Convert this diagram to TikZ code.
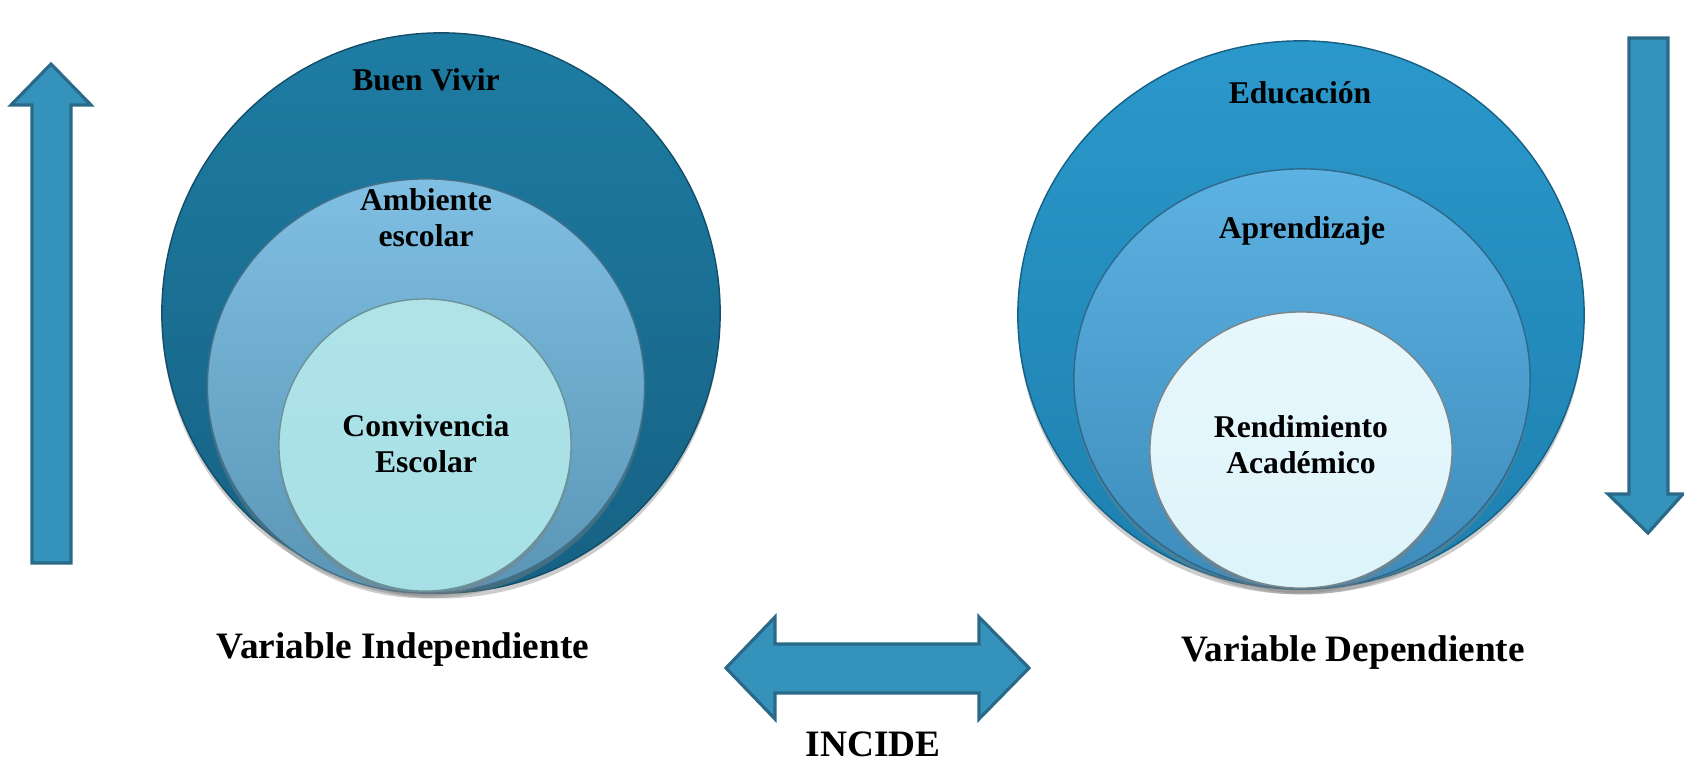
\documentclass[tikz,border=0pt]{standalone}
\usepackage{fontspec}
\setmainfont{Liberation Serif}
\usepackage{xcolor}
\usetikzlibrary{
    shadows,
    positioning
}

\definecolor{buenTop}{HTML}{1E7CA3}
\definecolor{buenBot}{HTML}{166183}
\definecolor{ambTop}{HTML}{7FBFE3}
\definecolor{ambBot}{HTML}{5A95B5}
\definecolor{convFill}{HTML}{A6E0E6}
\definecolor{eduTop}{HTML}{2B98CB}
\definecolor{eduBot}{HTML}{1D80AF}
\definecolor{aprTop}{HTML}{5CB2E2}
\definecolor{aprBot}{HTML}{3D8BBA}
\definecolor{rendFill}{HTML}{DDF4FB}
\definecolor{arrowFill}{HTML}{3592BA}
\definecolor{arrowLine}{HTML}{2A6A88}

\tikzset{
    lbl/.style={font=\bfseries\fontsize{9}{10.2}\selectfont, align=center, inner sep=0pt},
    varlbl/.style={font=\bfseries\fontsize{10.6}{12}\selectfont, inner sep=0pt},
    blockarrow/.style={fill=arrowFill, draw=arrowLine, line width=0.9pt, line join=miter},
    ring/.style={drop shadow={opacity=0.4, shadow xshift=0pt, shadow yshift=-1.5pt},
        line width=0.4pt}
}

\begin{document}
\begin{tikzpicture}[x=0.01cm, y=-0.01cm]
    \useasboundingbox (0,0) rectangle (1684,766);

    % independent side
    \shade[ring, top color=buenTop, bottom color=buenBot, draw=buenBot!80!black]
        (441,313) ellipse [x radius=2.79cm, y radius=2.80cm];
    \shade[ring, top color=ambTop, bottom color=ambBot, draw=ambBot!75!black]
        (426,386) ellipse [x radius=2.185cm, y radius=2.07cm];
    \shade[ring, top color=convFill!90!white, bottom color=convFill, draw=convFill!65!black]
        (425,445) ellipse [x radius=1.46cm, y radius=1.46cm];

    % dependent side
    \shade[ring, top color=eduTop, bottom color=eduBot, draw=eduBot!75!black]
        (1301,315) ellipse [x radius=2.83cm, y radius=2.74cm];
    \shade[ring, top color=aprTop, bottom color=aprBot, draw=aprBot!75!black]
        (1302,379) ellipse [x radius=2.28cm, y radius=2.10cm];
    \shade[ring, top color=rendFill!70!white, bottom color=rendFill, draw=rendFill!55!black]
        (1301,450) ellipse [x radius=1.51cm, y radius=1.38cm];

    \node[lbl] (buen) at (426,80) {Buen Vivir};
    \node[lbl] (ambiente) at (426,218) {Ambiente\\escolar};
    \node[lbl] (conviv) at (426,444) {Convivencia\\Escolar};
    \node[lbl] (educ) at (1300,93) {Educación};
    \node[lbl] (aprend) at (1302,231) {Aprendizaje};
    \node[lbl] (rend) at (1301,445) {Rendimiento\\Académico};

    % arrows
    \draw[blockarrow] (32,563) -- (32,105) -- (11,105) -- (51,64) -- (91,105)
        -- (71,105) -- (71,563) -- cycle;
    \draw[blockarrow] (1629,38) -- (1668,38) -- (1668,494) -- (1683,494) -- (1648,533)
        -- (1608,494) -- (1629,494) -- cycle;
    \draw[blockarrow] (726,668) -- (775,617) -- (775,644) -- (979,644) -- (979,617)
        -- (1029,668) -- (979,719) -- (979,693) -- (775,693) -- (775,719) -- cycle;

    \node[varlbl] (indep) at (403,650) {Variable Independiente};
    \node[varlbl] (dep) at (1353,653) {Variable Dependiente};
    \node[varlbl] (incide) at (873,744) {INCIDE};
\end{tikzpicture}
\end{document}
